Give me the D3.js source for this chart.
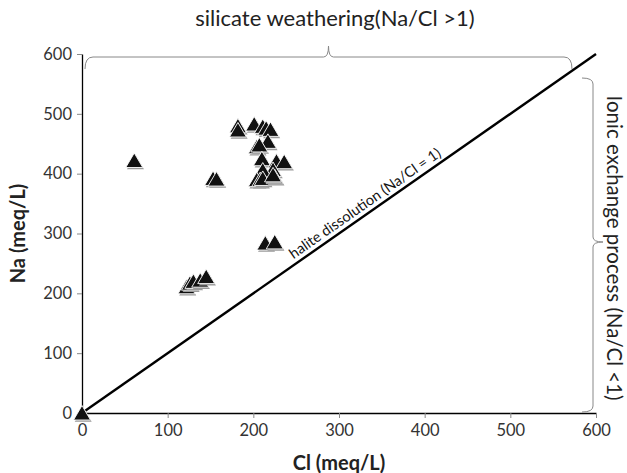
<!DOCTYPE html>
<html>
<head>
<meta charset="utf-8">
<script src="https://cdn.jsdelivr.net/npm/d3@7"></script>
<style>
  body { margin: 0; background: #fff; }
  svg { display: block; font-family: Lato, "Open Sans", sans-serif; }
</style>
</head>
<body>
<div class="container"></div>
<script>
// Cl (x) and Na (y) in meq/L
var clValues = [0, 61, 182, 182, 201, 211, 215, 220, 217, 204, 207, 210, 227, 236, 223, 211,
                204, 208, 211, 225, 223, 153, 157, 214, 225, 122, 126, 130, 138, 145];
var naValues = [0, 422, 480, 473, 483, 479, 476, 474, 454, 445, 448, 425, 421, 420, 407, 406,
                390, 390, 392, 395, 398, 392, 391, 284, 286, 211, 217, 220, 222, 228];
var xTicks = [0, 100, 200, 300, 400, 500, 600];
var yTicks = [0, 100, 200, 300, 400, 500, 600];
var ratioLine = [[0, 0], [600, 600]];

var WIDTH = 627, HEIGHT = 473;
var MARGIN = { left: 82, right: 31, top: 54, bottom: 60 };

document.addEventListener('DOMContentLoaded', function () {
    var svg = d3.select(".container")
        .append("svg")
        .attr("width", WIDTH)
        .attr("height", HEIGHT);

    var x = d3.scaleLinear().domain([0, 600]).range([MARGIN.left, WIDTH - MARGIN.right]);
    var y = d3.scaleLinear().domain([0, 600]).range([HEIGHT - MARGIN.bottom, MARGIN.top]);

    // axes
    var xAxis = svg.append("g")
        .attr("transform", `translate(0, ${y(0)})`)
        .call(d3.axisBottom(x).tickValues(xTicks).tickSize(5).tickSizeOuter(0).tickPadding(6));
    var yAxis = svg.append("g")
        .attr("transform", `translate(${x(0)}, 0)`)
        .call(d3.axisLeft(y).tickValues(yTicks).tickSize(5).tickSizeOuter(0).tickPadding(5));

    [xAxis, yAxis].forEach(function (a) {
        a.select(".domain").attr("stroke", "#000").attr("stroke-width", 1.3);
        a.selectAll(".tick line").attr("stroke", "#888");
        a.selectAll(".tick text")
            .attr("fill", "#333")
            .style("font-size", "16.5px")
            .style("font-family", "Lato, sans-serif");
    });

    // 1:1 line
    svg.append("path")
        .datum(ratioLine)
        .attr("d", d3.line().x(d => x(d[0])).y(d => y(d[1])))
        .attr("stroke", "#000")
        .attr("stroke-width", 2.4)
        .attr("fill", "none");

    var angle = Math.atan2(y(0) - y(600), x(600) - x(0)) * 180 / Math.PI;
    svg.append("text")
        .attr("transform", `translate(${x(247)}, ${y(247) - 6}) rotate(${-angle})`)
        .style("font-size", "14.5px")
        .attr("fill", "#111")
        .text("halite dissolution (Na/Cl = 1)");

    // markers
    var tri = "M0,-7.5 L8.5,7 L-8.5,7 Z";
    var points = svg.append("g").selectAll("g")
        .data(clValues.map((c, i) => [c, naValues[i]]))
        .enter()
        .append("g")
        .attr("transform", d => `translate(${x(d[0])}, ${y(d[1])})`);
    points.append("path")
        .attr("d", tri)
        .attr("transform", "translate(1.2, 1.8)")
        .attr("fill", "#9a9a9a");
    points.append("path")
        .attr("d", tri)
        .attr("fill", "#111")
        .attr("stroke", "#fff")
        .attr("stroke-width", 0.9);

    // braces
    var bx0 = 85, bx1 = 572, by = 57, bmid = (bx0 + bx1) / 2;
    svg.append("path")
        .attr("d", `M${bx0},${by + 12} Q${bx0},${by} ${bx0 + 8},${by}
                    L${bmid - 5},${by} Q${bmid},${by} ${bmid},${by - 11}
                    Q${bmid},${by} ${bmid + 5},${by}
                    L${bx1 - 8},${by} Q${bx1},${by} ${bx1},${by + 12}`)
        .attr("fill", "none")
        .attr("stroke", "#888")
        .attr("stroke-width", 1);

    var rx = 593, ry0 = 78, ry1 = 412, rmid = 242;
    svg.append("path")
        .attr("d", `M${rx - 11},${ry0} Q${rx},${ry0} ${rx},${ry0 + 6}
                    L${rx},${rmid - 5} Q${rx},${rmid} ${rx + 10},${rmid}
                    Q${rx},${rmid} ${rx},${rmid + 5}
                    L${rx},${ry1 - 6} Q${rx},${ry1} ${rx - 11},${ry1}`)
        .attr("fill", "none")
        .attr("stroke", "#888")
        .attr("stroke-width", 1);

    svg.append("text")
        .attr("x", 335)
        .attr("y", 26)
        .attr("text-anchor", "middle")
        .style("font-size", "22px")
        .attr("fill", "#222")
        .text("silicate weathering(Na/Cl >1)");

    svg.append("text")
        .attr("transform", `translate(607, 248) rotate(90)`)
        .attr("text-anchor", "middle")
        .style("font-size", "20.5px")
        .attr("fill", "#222")
        .text("Ionic exchange process (Na/Cl <1)");

    // axis titles
    svg.append("text")
        .attr("x", (x(0) + x(600)) / 2)
        .attr("y", 470)
        .attr("text-anchor", "middle")
        .style("font-size", "20px")
        .style("font-weight", "bold")
        .attr("fill", "#222")
        .text("Cl (meq/L)");

    svg.append("text")
        .attr("transform", `translate(25, ${(y(0) + y(600)) / 2}) rotate(-90)`)
        .attr("text-anchor", "middle")
        .style("font-size", "20px")
        .style("font-weight", "bold")
        .attr("fill", "#222")
        .text("Na (meq/L)");
});
</script>
</body>
</html>
